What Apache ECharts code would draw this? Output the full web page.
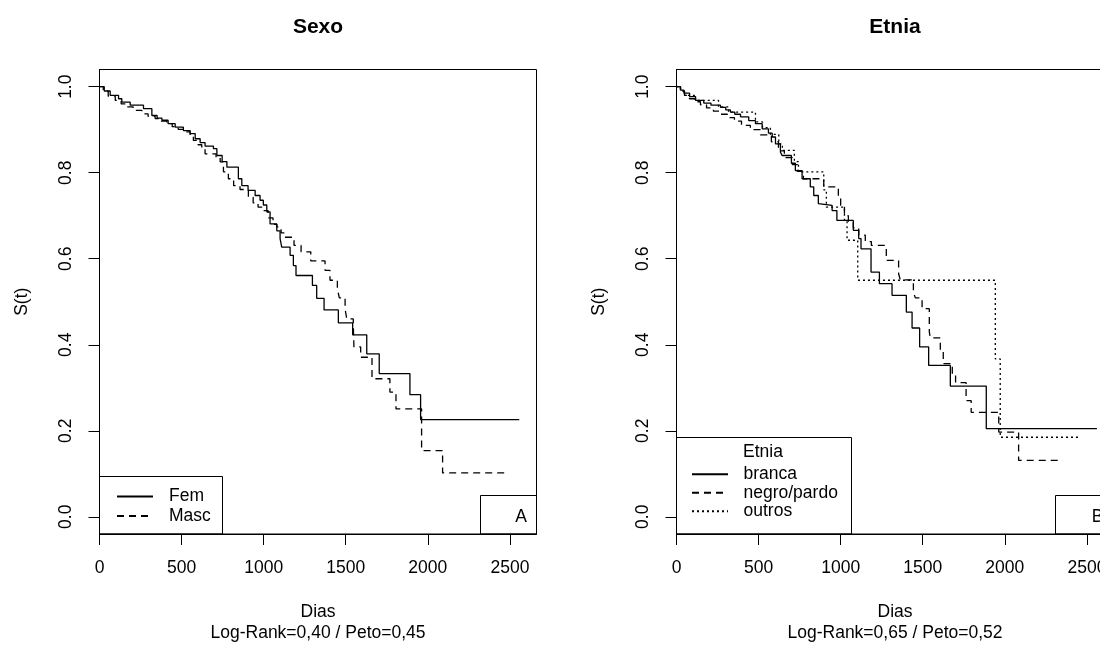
<!DOCTYPE html>
<html><head><meta charset="utf-8">
<script src="https://cdn.jsdelivr.net/npm/echarts@6/dist/echarts.min.js"></script>
<style>html,body{margin:0;padding:0;background:#fff}#c{width:1100px;height:645px}</style>
</head><body><div id="c"></div>
<script>
// ---- tick labels / texts ----
const xTicks = [0, 500, 1000, 1500, 2000, 2500];
const yTicks = [0, 0.2, 0.4, 0.6, 0.8, 1.0];
const panelTitles = ['Sexo', 'Etnia'];
const xAxisNames = ['Dias\nLog-Rank=0,40 / Peto=0,45', 'Dias\nLog-Rank=0,65 / Peto=0,52'];
const yAxisName = 'S(t)';
const legendTitleEtnia = 'Etnia';
const panelTags = ['A', 'B'];

// ---- Sexo panel ----
const femTime = [0, 29, 65, 116, 136, 187, 268, 319, 351, 380, 418, 461, 511, 552, 583, 613, 643, 694, 715, 747, 776, 846, 867, 905, 948, 978, 998, 1019, 1039, 1080, 1100, 1110, 1161, 1181, 1197, 1297, 1323, 1368, 1455, 1542, 1628, 1704, 1891, 1956, 2557];
const femSurv = [1.0, 0.990, 0.980, 0.972, 0.964, 0.957, 0.949, 0.933, 0.927, 0.922, 0.914, 0.906, 0.898, 0.891, 0.879, 0.870, 0.862, 0.856, 0.840, 0.826, 0.813, 0.786, 0.770, 0.759, 0.747, 0.736, 0.725, 0.709, 0.681, 0.665, 0.647, 0.627, 0.608, 0.584, 0.561, 0.538, 0.508, 0.481, 0.451, 0.423, 0.379, 0.333, 0.284, 0.226, 0.226];
const mascTime = [0, 23, 53, 96, 132, 167, 205, 258, 296, 339, 376, 410, 443, 479, 522, 552, 572, 601, 623, 643, 710, 735, 755, 785, 817, 856, 907, 936, 966, 990, 1027, 1057, 1080, 1106, 1124, 1185, 1228, 1287, 1374, 1404, 1449, 1461, 1496, 1506, 1546, 1550, 1591, 1660, 1769, 1806, 1962, 2090, 2470];
const mascSurv = [1.0, 0.990, 0.978, 0.968, 0.960, 0.953, 0.945, 0.937, 0.931, 0.926, 0.920, 0.914, 0.907, 0.901, 0.895, 0.885, 0.875, 0.865, 0.856, 0.844, 0.835, 0.825, 0.802, 0.786, 0.770, 0.761, 0.743, 0.730, 0.720, 0.712, 0.695, 0.680, 0.674, 0.660, 0.650, 0.631, 0.616, 0.595, 0.573, 0.550, 0.530, 0.509, 0.484, 0.460, 0.445, 0.395, 0.371, 0.321, 0.290, 0.251, 0.154, 0.102, 0.102];

// ---- Etnia panel ----
const brancaTime = [0, 25, 45, 80, 116, 166, 210, 268, 300, 328, 355, 390, 440, 481, 522, 560, 583, 603, 633, 643, 700, 724, 765, 815, 836, 864, 870, 948, 977, 1077, 1110, 1124, 1185, 1236, 1313, 1400, 1435, 1481, 1536, 1668, 1887, 2561];
const brancaSurv = [1.0, 0.992, 0.985, 0.977, 0.968, 0.962, 0.957, 0.952, 0.946, 0.941, 0.936, 0.930, 0.921, 0.914, 0.902, 0.892, 0.883, 0.867, 0.848, 0.840, 0.822, 0.805, 0.786, 0.767, 0.747, 0.728, 0.724, 0.712, 0.689, 0.666, 0.647, 0.623, 0.569, 0.542, 0.515, 0.476, 0.439, 0.395, 0.352, 0.304, 0.205, 0.205];
const negroTime = [0, 24, 49, 79, 110, 146, 183, 225, 268, 310, 353, 396, 450, 511, 578, 621, 657, 706, 737, 773, 897, 986, 1000, 1023, 1047, 1077, 1110, 1150, 1187, 1278, 1353, 1363, 1443, 1455, 1496, 1540, 1546, 1607, 1625, 1680, 1700, 1764, 1795, 1963, 2084, 2337];
const negroSurv = [1.0, 0.990, 0.980, 0.972, 0.965, 0.958, 0.951, 0.943, 0.936, 0.928, 0.920, 0.910, 0.900, 0.888, 0.872, 0.851, 0.835, 0.819, 0.803, 0.786, 0.767, 0.745, 0.724, 0.700, 0.685, 0.672, 0.655, 0.640, 0.631, 0.596, 0.565, 0.551, 0.522, 0.509, 0.484, 0.430, 0.416, 0.385, 0.356, 0.330, 0.312, 0.270, 0.243, 0.197, 0.131, 0.131];
const outrosTime = [0, 24, 49, 116, 256, 317, 481, 524, 572, 623, 645, 718, 743, 897, 913, 1023, 1039, 1104, 1942, 1972, 2447];
const outrosSurv = [1.0, 0.990, 0.980, 0.968, 0.953, 0.941, 0.918, 0.905, 0.889, 0.867, 0.852, 0.826, 0.802, 0.760, 0.720, 0.690, 0.643, 0.550, 0.367, 0.185, 0.185];

const FF = '"Liberation Sans", Arial, sans-serif';
const FS = 17.5;
const pairs = (t, s) => t.map((v, i) => [v, s[i]]);

const grids = [
  {left: 99.5, top: 69.5, width: 437, height: 464.5, show: true, borderColor: '#000', borderWidth: 1,
   backgroundColor: 'transparent', containLabel: false, outerBoundsMode: 'none'},
  {left: 676.5, top: 69.5, width: 437, height: 464.5, show: true, borderColor: '#000', borderWidth: 1,
   backgroundColor: 'transparent', containLabel: false, outerBoundsMode: 'none'}
];

function xAx(i) {
  return {
    gridIndex: i, type: 'value', min: 0, max: 2662, position: 'bottom',
    axisLine: {show: true, onZero: false, lineStyle: {color: '#000', width: 1}}, splitLine: {show: false},
    axisTick: {show: true, customValues: xTicks, length: 11, inside: false, lineStyle: {color: '#000', width: 1}},
    axisLabel: {customValues: xTicks, margin: 25, fontSize: FS, color: '#000', fontFamily: FF,
      formatter: v => String(v)},
    name: xAxisNames[i], nameLocation: 'middle', nameGap: 67,
    nameTextStyle: {fontSize: FS, color: '#000', fontFamily: FF, lineHeight: 21.5, align: 'center'}
  };
}
function yAx(i) {
  return {
    gridIndex: i, type: 'value', min: -0.04, max: 1.04, position: 'left',
    axisLine: {show: true, onZero: false, lineStyle: {color: '#000', width: 1}}, splitLine: {show: false},
    axisTick: {show: true, customValues: yTicks, length: 11, inside: false, lineStyle: {color: '#000', width: 1}},
    axisLabel: {customValues: yTicks, rotate: 90, margin: 24, fontSize: FS, color: '#000', fontFamily: FF,
      formatter: v => Number(v).toFixed(1)},
    name: yAxisName, nameLocation: 'middle', nameGap: 68, nameRotate: 90,
    nameTextStyle: {fontSize: FS, color: '#000', fontFamily: FF}
  };
}

function km(name, t, s, idx, dash) {
  return {
    name: name, type: 'line', xAxisIndex: idx, yAxisIndex: idx, step: 'end',
    data: pairs(t, s), symbol: 'none', color: '#000',
    lineStyle: {color: '#000', width: 1.3, type: dash},
    emphasis: {disabled: true}, animation: false
  };
}

const DASH = [7, 5];
const DOT = [2, 3];

const legendBase = {
  orient: 'vertical', padding: 0, itemWidth: 36, itemHeight: 20, selectedMode: false,
  itemStyle: {opacity: 0},
  textStyle: {fontSize: FS, color: '#000', fontFamily: FF, padding: [0, 0, 0, 11]}
};

const option = {
  backgroundColor: '#fff',
  animation: false,
  title: [
    {text: panelTitles[0], left: 318, top: 16.5, textAlign: 'center', padding: 0,
     textStyle: {fontSize: 21, fontWeight: 'bold', color: '#000', fontFamily: FF}},
    {text: panelTitles[1], left: 895, top: 16.5, textAlign: 'center', padding: 0,
     textStyle: {fontSize: 21, fontWeight: 'bold', color: '#000', fontFamily: FF}}
  ],
  grid: grids,
  xAxis: [xAx(0), xAx(1)],
  yAxis: [yAx(0), yAx(1)],
  legend: [
    Object.assign({}, legendBase, {data: ['Fem', 'Masc'], left: 116, top: 487.5, itemGap: 1.5}),
    Object.assign({}, legendBase, {data: ['branca', 'negro/pardo', 'outros'], left: 691, top: 465.3, itemGap: 0.5,
      textStyle: {fontSize: FS, color: '#000', fontFamily: FF, padding: [0, 0, 0, 10.5]}})
  ],
  series: [
    km('Fem', femTime, femSurv, 0, 'solid'),
    km('Masc', mascTime, mascSurv, 0, DASH),
    km('branca', brancaTime, brancaSurv, 1, 'solid'),
    km('negro/pardo', negroTime, negroSurv, 1, DASH),
    km('outros', outrosTime, outrosSurv, 1, DOT)
  ],
  graphic: [
    {type: 'rect', silent: true, z: 100, shape: {x: 99.5, y: 476.5, width: 123, height: 57.5}, style: {fill: 'none', stroke: '#000', lineWidth: 1}},
    {type: 'rect', silent: true, z: 100, shape: {x: 480.5, y: 495.5, width: 56, height: 38.5}, style: {fill: 'none', stroke: '#000', lineWidth: 1}},
    {type: 'text', silent: true, z: 100, x: 521, y: 517, style: {text: panelTags[0], fontSize: FS, fontFamily: FF, fill: '#000', textAlign: 'center', textVerticalAlign: 'middle'}},
    {type: 'rect', silent: true, z: 100, shape: {x: 676.5, y: 437.5, width: 175, height: 96.5}, style: {fill: 'none', stroke: '#000', lineWidth: 1}},
    {type: 'text', silent: true, z: 100, x: 763, y: 452, style: {text: legendTitleEtnia, fontSize: FS, fontFamily: FF, fill: '#000', textAlign: 'center', textVerticalAlign: 'middle'}},
    {type: 'rect', silent: true, z: 100, shape: {x: 1055.5, y: 495.5, width: 58, height: 38.5}, style: {fill: 'none', stroke: '#000', lineWidth: 1}},
    {type: 'text', silent: true, z: 100, x: 1097.5, y: 517, style: {text: panelTags[1], fontSize: FS, fontFamily: FF, fill: '#000', textAlign: 'center', textVerticalAlign: 'middle'}}
  ]
};

const chart = echarts.init(document.getElementById('c'), null, {renderer: 'canvas'});
chart.setOption(option);
</script>
</body></html>
